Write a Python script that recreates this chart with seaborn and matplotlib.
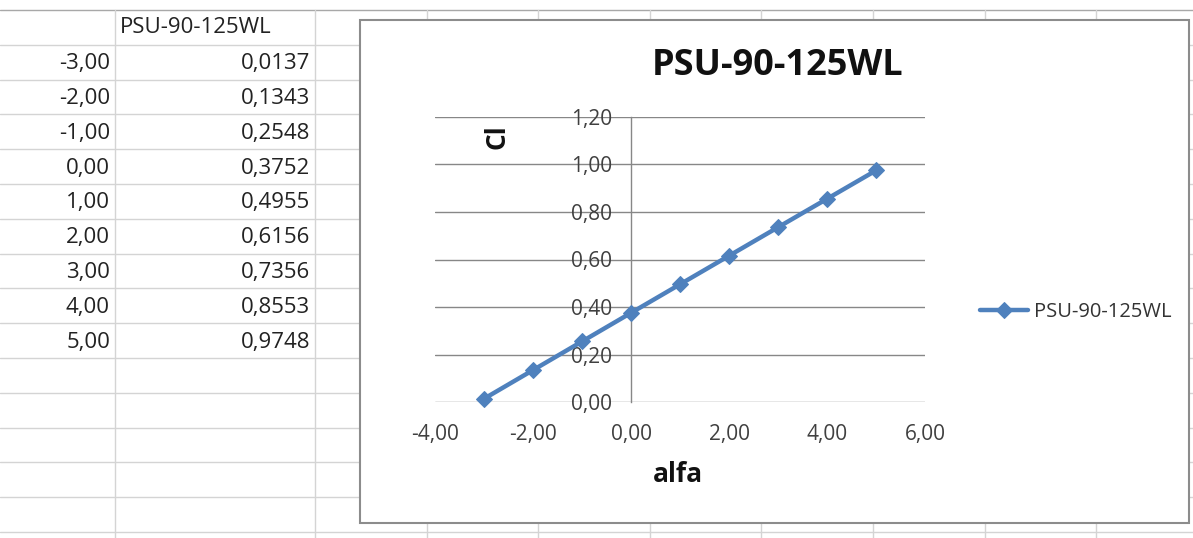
import numpy as np
import pandas as pd
import matplotlib
matplotlib.use("Agg")
import matplotlib.pyplot as plt
from matplotlib.patches import Rectangle
from matplotlib.ticker import FuncFormatter, MultipleLocator
import seaborn as sns

# datos de la hoja
serie = "PSU-90-125WL"
alfa = [-3.0, -2.0, -1.0, 0.0, 1.0, 2.0, 3.0, 4.0, 5.0]
cl = [0.0137, 0.1343, 0.2548, 0.3752, 0.4955, 0.6156, 0.7356, 0.8553, 0.9748]
x_ticks = [-4, -2, 0, 2, 4, 6]
y_ticks = [0.0, 0.2, 0.4, 0.6, 0.8, 1.0, 1.2]

W, H = 1193, 538
AZUL = "#4F81BD"


def coma(v, dec=2):
    return f"{v:.{dec}f}".replace(".", ",")


def fx(px):
    return px / W


def fy(py):
    return 1 - py / H


sns.set_style("white")
plt.rcParams["font.family"] = ["Open Sans", "DejaVu Sans"]

fig = plt.figure(figsize=(W / 100, H / 100), dpi=100)

# --- fondo tipo hoja de calculo ---
bg = fig.add_axes([0, 0, 1, 1])
bg.set_xlim(0, W)
bg.set_ylim(H, 0)
bg.axis("off")

alto_fila = 34.8
filas_y = [10 + alto_fila * k for k in range(16)]
columnas_x = [115, 315, 427, 538, 650, 761, 873, 985, 1096]
for i, y in enumerate(filas_y):
    bg.plot([0, W], [y, y], color="#a8a8a8" if i == 0 else "#d4d4d4", lw=1)
for x in columnas_x:
    bg.plot([x, x], [10, H], color="#d4d4d4", lw=1)

# cabecera y valores de la tabla
bg.text(120, filas_y[0] + alto_fila / 2 + 6, serie, ha="left", va="baseline",
        fontsize=16, color="#222222")
for k, (a, c) in enumerate(zip(alfa, cl), start=1):
    yb = filas_y[k] + alto_fila / 2 + 7
    bg.text(110, yb, coma(a, 2), ha="right", va="baseline", fontsize=16, color="#222222")
    bg.text(310, yb, coma(c, 4), ha="right", va="baseline", fontsize=16, color="#222222")

# marco del grafico
bg.add_patch(Rectangle((360, 20), 1189 - 360, 523 - 20, facecolor="white",
                       edgecolor="#8c8c8c", lw=1.5, zorder=5))

# --- grafico ---
ax = fig.add_axes([fx(435), fy(402), fx(925) - fx(435), (402 - 117) / H])
ax.patch.set_alpha(0)
df = pd.DataFrame({"alfa": alfa, "Cl": cl})
sns.lineplot(data=df, x="alfa", y="Cl", ax=ax, color=AZUL, lw=3.2, marker="D",
             markersize=8, markeredgecolor=AZUL, label=serie, legend=False,
             estimator=None, clip_on=False, zorder=4)

ax.set_xlim(-4, 6)
ax.set_ylim(0, 1.2)
ax.xaxis.set_major_locator(MultipleLocator(2))
ax.yaxis.set_major_locator(MultipleLocator(0.2))
ax.xaxis.set_major_formatter(FuncFormatter(lambda v, p: coma(v)))
ax.yaxis.set_major_formatter(FuncFormatter(lambda v, p: coma(v)))
ax.grid(axis="y", color="#878787", lw=1)
ax.grid(axis="x", visible=False)
for gl in ax.get_ygridlines():
    gl.set_clip_on(False)

for s in ["top", "right", "bottom"]:
    ax.spines[s].set_visible(False)
ax.spines["left"].set_position(("data", 0))
ax.spines["left"].set_color("#878787")
ax.spines["left"].set_linewidth(1)
ax.tick_params(axis="y", length=0, pad=13.5, labelsize=15, labelcolor="#404040")
ax.tick_params(axis="x", length=0, pad=16, labelsize=15, labelcolor="#404040")
ax.set_xlabel("")
ax.set_ylabel("")

# titulos
fig.text(fx(778), fy(66), serie, ha="center", va="center", fontsize=26,
         fontweight="bold", color="#111111")
fig.text(fx(678), fy(474), "alfa", ha="center", va="center", fontsize=19,
         fontweight="bold", color="#111111")
fig.text(fx(497), fy(137), "Cl", ha="center", va="center", fontsize=19,
         fontweight="bold", rotation=90, color="#111111")

# leyenda
handles, labels = ax.get_legend_handles_labels()
fig.legend(handles, labels, loc="center left", bbox_to_anchor=(fx(980), fy(312)),
           frameon=False, borderaxespad=0, borderpad=0, handlelength=2.4,
           handletextpad=0.3, fontsize=14.5, labelcolor="#333333")

fig.savefig("out.png", dpi=100)
